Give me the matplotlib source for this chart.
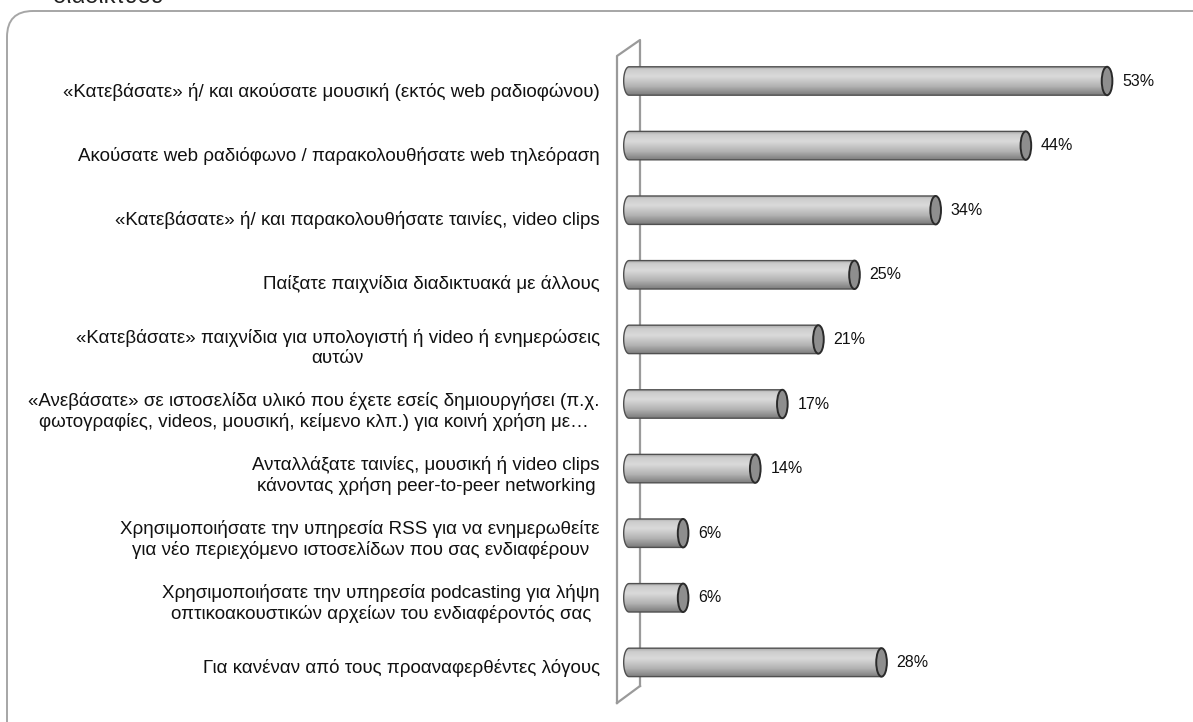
import numpy as np
import matplotlib
matplotlib.use("Agg")
import matplotlib.pyplot as plt
from matplotlib.patches import FancyBboxPatch, Ellipse, PathPatch
from matplotlib.path import Path
from matplotlib.colors import LinearSegmentedColormap

plt.rcParams['font.family'] = ['Liberation Sans', 'DejaVu Sans']

categories = [
    "«Κατεβάσατε» ή/ και ακούσατε μουσική (εκτός web ραδιοφώνου)",
    "Ακούσατε web ραδιόφωνο / παρακολουθήσατε web τηλεόραση",
    "«Κατεβάσατε» ή/ και παρακολουθήσατε ταινίες, video clips",
    "Παίξατε παιχνίδια διαδικτυακά με άλλους",
    "«Κατεβάσατε» παιχνίδια για υπολογιστή ή video ή ενημερώσεις\nαυτών",
    "«Ανεβάσατε» σε ιστοσελίδα υλικό που έχετε εσείς δημιουργήσει (π.χ.\n"
    "φωτογραφίες, videos, μουσική, κείμενο κλπ.) για κοινή χρήση με…",
    "Ανταλλάξατε ταινίες, μουσική ή video clips\nκάνοντας χρήση peer-to-peer networking",
    "Χρησιμοποιήσατε την υπηρεσία RSS για να ενημερωθείτε\n"
    "για νέο περιεχόμενο ιστοσελίδων που σας ενδιαφέρουν",
    "Χρησιμοποιήσατε την υπηρεσία podcasting για λήψη\n"
    "οπτικοακουστικών αρχείων του ενδιαφέροντός σας",
    "Για κανέναν από τους προαναφερθέντες λόγους",
]
values = [53, 44, 34, 25, 21, 17, 14, 6, 6, 28]
title_tail = "διαδικτύου"

W, H = 1193, 722
fig = plt.figure(figsize=(W / 100, H / 100), dpi=100)

# pixel-space background: rounded frame, 3D wall, clipped title
bg = fig.add_axes([0, 0, 1, 1])
bg.set_xlim(0, W)
bg.set_ylim(H, 0)
bg.axis('off')
bg.add_patch(FancyBboxPatch((7, 11), 1300, 800,
                            boxstyle="round,pad=0,rounding_size=26",
                            facecolor='white', edgecolor='#a6a6a6', lw=1.4))
wall_c = '#9a9a9a'
bg.plot([617, 617, 640, 640], [703, 56, 40, 686], color=wall_c, lw=1.6)
bg.plot([617, 640], [703, 686], color=wall_c, lw=1.6)
bg.text(53, 3, title_tail, fontsize=17, color='#222222', va='baseline', ha='left')

# chart axes: x in %, y in category rows
ax = fig.add_axes([600 / W, 0, (W - 600) / W, (H - 30) / H])
ax.patch.set_alpha(0)
xmin, xmax = (600 - 629) / 9.02, (W - 629) / 9.02
ymin, ymax = (30 - 81) / 64.6, (H - 81) / 64.6
ax.set_xlim(xmin, xmax)
ax.set_ylim(ymax, ymin)
ax.axis('off')

cyl = LinearSegmentedColormap.from_list(
    'cyl', [(0, '#a9a9a9'), (0.12, '#cdcdcd'), (0.35, '#dadada'),
            (0.7, '#b3b3b3'), (1.0, '#7c7c7c')])
grad = np.linspace(0, 1, 64).reshape(-1, 1)

h = 0.44      # bar thickness in row units
ew = 1.18     # cap ellipse width in % units
cap = np.linspace(np.pi / 2, 3 * np.pi / 2, 30)
for i, v in enumerate(values):
    top, bot = i - h / 2, i + h / 2
    # cylinder body: right edge, bottom, rounded left cap, back to top
    pts = [(v, top), (v, bot)] + [(ew / 2 * np.cos(a), i + h / 2 * np.sin(a))
                                  for a in cap]
    pts.append((v, top))
    body = PathPatch(Path(pts), facecolor='none', edgecolor='#505050',
                     lw=1.0, zorder=3)
    ax.add_patch(body)
    im = ax.imshow(grad, cmap=cyl, aspect='auto', origin='upper',
                   extent=(-ew, v, bot, top), zorder=2)
    im.set_clip_path(body)
    ax.add_patch(Ellipse((v, i), ew, h, facecolor='#8e8e8e',
                         edgecolor='#2a2a2a', lw=1.4, zorder=4))
    ax.annotate(f"{v}%", xy=(v, i), xytext=(15, 0), textcoords='offset pixels',
                ha='left', va='center', fontsize=11.5, color='#111111')
    ax.annotate(categories[i], xy=(0, i), xycoords=('axes fraction', 'data'),
                xytext=(0, -(11 - 5.5 * i / 9)), textcoords='offset pixels',
                ha='right', va='center', multialignment='center',
                fontsize=13.5, color='#111111', linespacing=1.22,
                annotation_clip=False)

ax.set_xlim(xmin, xmax)
ax.set_ylim(ymax, ymin)

fig.savefig('out.png', dpi=100)
